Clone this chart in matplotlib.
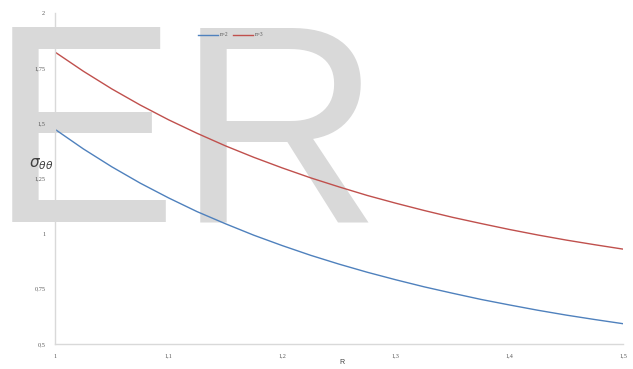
import matplotlib
matplotlib.use("Agg")
import matplotlib.pyplot as plt

# values
r_values = [1.000, 1.025, 1.050, 1.075, 1.100, 1.125, 1.150, 1.175, 1.200, 1.225, 1.250,
            1.275, 1.300, 1.325, 1.350, 1.375, 1.400, 1.425, 1.450, 1.475, 1.500]
sigma_n2 = [1.473, 1.384, 1.303, 1.229, 1.162, 1.100, 1.045, 0.993, 0.946, 0.902, 0.862,
            0.825, 0.791, 0.759, 0.730, 0.702, 0.677, 0.653, 0.631, 0.611, 0.592]
sigma_n3 = [1.823, 1.736, 1.656, 1.583, 1.516, 1.455, 1.398, 1.346, 1.298, 1.253, 1.212,
            1.173, 1.138, 1.105, 1.074, 1.046, 1.019, 0.994, 0.971, 0.950, 0.930]
series_labels = ["n=2", "n=3"]
x_ticks = [1.0, 1.1, 1.2, 1.3, 1.4, 1.5]
x_tick_labels = ["1", "1,1", "1,2", "1,3", "1,4", "1,5"]
y_ticks = [0.5, 0.75, 1.0, 1.25, 1.5, 1.75, 2.0]
y_tick_labels = ["0,5", "0,75", "1", "1,25", "1,5", "1,75", "2"]

W, H = 633, 369
fig = plt.figure(figsize=(W / 100, H / 100), dpi=100)
fig.patch.set_facecolor("white")

# big grey watermark letters behind the chart
for letter, left in [("E", -11), ("R", 177)]:
    fig.text(left / W, (H - 222.5) / H, letter, fontsize=204, color="#d9d9d9",
             family="Liberation Sans", ha="left", va="baseline", zorder=-5)

ax = fig.add_axes([55 / W, (H - 344) / H, 568 / W, 331 / H])
ax.patch.set_visible(False)

ax.plot(r_values, sigma_n2, color="#4F81BD", lw=1.0, label=series_labels[0])
ax.plot(r_values, sigma_n3, color="#C0504D", lw=1.0, label=series_labels[1])

ax.set_xlim(1.0, 1.5)
ax.set_ylim(0.5, 2.0)
ax.set_xticks(x_ticks)
ax.set_xticklabels(x_tick_labels)
ax.set_yticks(y_ticks)
ax.set_yticklabels(y_tick_labels)
for lab in ax.get_xticklabels() + ax.get_yticklabels():
    lab.set_family("Liberation Serif")
    lab.set_fontsize(4.5)
    lab.set_color("#595959")
ax.tick_params(length=0, pad=7)

for side in ["top", "right"]:
    ax.spines[side].set_visible(False)
for side in ["left", "bottom"]:
    ax.spines[side].set_color("#d9d9d9")
    ax.spines[side].set_linewidth(1.0)

fig.text(342 / W, (H - 362) / H, "R", fontsize=5, color="#404040",
         family="Liberation Sans", ha="center", va="center")
fig.text(41 / W, (H - 164) / H, r"$\sigma_{\theta\theta}$", fontsize=11,
         color="#404040", ha="center", va="center")

leg = ax.legend(loc="center", bbox_to_anchor=(231 / W, (H - 35) / H),
                bbox_transform=fig.transFigure, ncol=2, frameon=False,
                prop={"family": "Liberation Serif", "size": 4},
                handlelength=3.5, columnspacing=0.8, handletextpad=0.4)
for t in leg.get_texts():
    t.set_color("#595959")

fig.savefig("out.png", dpi=100)
